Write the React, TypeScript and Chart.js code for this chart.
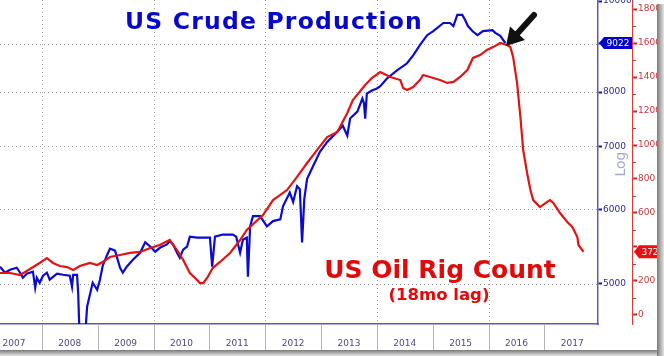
import React, { useEffect, useRef } from "react";
import { Chart, registerables } from "chart.js";

Chart.register(...registerables);

// ---- data ----
const yearLabels = [2007, 2008, 2009, 2010, 2011, 2012, 2013, 2014, 2015, 2016, 2017];
const gridYears = [2008, 2010, 2012, 2014, 2016];
const prodTicks = [5000, 6000, 7000, 8000, 9000, 10000];
const rigTicks = [0, 200, 400, 600, 800, 1000, 1200, 1400, 1600, 1800];
const rigMinorTicks = [100, 300, 500, 700, 900, 1100, 1300, 1500, 1700];

// US crude production (kb/d, log axis)
const prodDates = [
  2007.25, 2007.34, 2007.43, 2007.55, 2007.61, 2007.66, 2007.73, 2007.84, 2007.88, 2007.91, 2007.96,
  2008.02, 2008.09, 2008.14, 2008.27, 2008.38, 2008.5, 2008.54, 2008.56, 2008.63, 2008.65, 2008.68,
  2008.77, 2008.81, 2008.91, 2008.99, 2009.04, 2009.09, 2009.17, 2009.22, 2009.31, 2009.4, 2009.45,
  2009.52, 2009.63, 2009.76, 2009.85, 2009.94, 2010.03, 2010.12, 2010.24, 2010.29, 2010.35, 2010.42,
  2010.47, 2010.53, 2010.6, 2010.65, 2010.78, 2010.89, 2011.01, 2011.05, 2011.1, 2011.24, 2011.42,
  2011.48, 2011.55, 2011.6, 2011.67, 2011.69, 2011.73, 2011.78, 2011.91, 2012.03, 2012.14, 2012.27,
  2012.32, 2012.44, 2012.5, 2012.57, 2012.62, 2012.66, 2012.7, 2012.75, 2012.86, 2012.98, 2013.11,
  2013.29, 2013.39, 2013.47, 2013.52, 2013.65, 2013.74, 2013.77, 2013.79, 2013.82, 2013.91, 2014.0,
  2014.06, 2014.18, 2014.36, 2014.54, 2014.65, 2014.77, 2014.9, 2015.01, 2015.19, 2015.31, 2015.37,
  2015.44, 2015.53, 2015.58, 2015.63, 2015.71, 2015.8, 2015.9, 2016.07, 2016.12, 2016.21, 2016.3,
];
const prodValues = [
  5213, 5137, 5175, 5200, 5137, 5074, 5124, 5150, 4951, 5074, 5012,
  5099, 5137, 5050, 5124, 5111, 5099, 4963, 5111, 5111, 4889, 4300,
  4350, 4727, 5012, 4926, 5050, 5226, 5369, 5450, 5422, 5200, 5137,
  5213, 5302, 5395, 5534, 5478, 5409, 5464, 5506, 5548, 5506, 5395,
  5330, 5436, 5478, 5612, 5598, 5598, 5598, 5213, 5612, 5641, 5641,
  5612, 5395, 5570, 5598, 5087, 5756, 5902, 5902, 5756, 5830, 5854,
  6049, 6253, 6110, 6351, 6303, 5534, 6155, 6466, 6676, 6909, 7080,
  7256, 7366, 7187, 7496, 7624, 7873, 7777, 7496, 7970, 8029, 8071,
  8115, 8271, 8436, 8584, 8754, 8974, 9196, 9290, 9475, 9475, 9405,
  9664, 9664, 9545, 9405, 9290, 9196, 9290, 9310, 9250, 9180, 9022,
];

// US oil rig count (shifted 18 months)
const rigDates = [
  2007.25, 2007.43, 2007.61, 2007.73, 2007.96, 2008.09, 2008.2, 2008.32, 2008.45, 2008.56, 2008.68,
  2008.86, 2008.99, 2009.09, 2009.22, 2009.4, 2009.58, 2009.76, 2009.94, 2010.11, 2010.29, 2010.35,
  2010.42, 2010.53, 2010.65, 2010.78, 2010.83, 2010.89, 2010.96, 2011.06, 2011.19, 2011.37, 2011.55,
  2011.67, 2011.96, 2012.14, 2012.39, 2012.57, 2012.75, 2012.93, 2013.11, 2013.29, 2013.47, 2013.57,
  2013.79, 2013.91, 2014.06, 2014.24, 2014.42, 2014.47, 2014.54, 2014.65, 2014.77, 2014.83, 2014.95,
  2015.13, 2015.26, 2015.37, 2015.49, 2015.62, 2015.72, 2015.85, 2015.97, 2016.08, 2016.21, 2016.33,
  2016.39, 2016.44, 2016.51, 2016.57, 2016.62, 2016.69, 2016.75, 2016.8, 2016.92, 2017.05, 2017.1,
  2017.16, 2017.28, 2017.41, 2017.5, 2017.59, 2017.61, 2017.7,
];
const rigValues = [
  247, 247, 235, 259, 306, 335, 306, 288, 282, 265, 288,
  306, 294, 312, 341, 353, 365, 371, 394, 412, 441, 412,
  382, 324, 247, 206, 188, 188, 218, 276, 312, 365, 441,
  500, 588, 676, 735, 812, 894, 971, 1047, 1076, 1188, 1265,
  1353, 1394, 1429, 1400, 1382, 1335, 1324, 1341, 1382, 1412, 1400,
  1382, 1365, 1371, 1400, 1441, 1512, 1529, 1559, 1576, 1600, 1588,
  1576, 1518, 1365, 1165, 971, 835, 735, 676, 635, 665, 676,
  659, 600, 547, 518, 459, 412, 372,
];

const lastProd = 9022;
const lastRig = 372;

const BLUE = "#0a0ad2";
const RED = "#e01414";

function tag(ctx: CanvasRenderingContext2D, xl: number, ym: number, w: number, h: number, color: string, text: string) {
  ctx.save();
  ctx.fillStyle = color;
  ctx.beginPath();
  ctx.moveTo(xl, ym);
  ctx.lineTo(xl + 5, ym - h / 2);
  ctx.lineTo(xl + w, ym - h / 2);
  ctx.lineTo(xl + w, ym + h / 2);
  ctx.lineTo(xl + 5, ym + h / 2);
  ctx.closePath();
  ctx.fill();
  ctx.fillStyle = "#ffffff";
  ctx.font = "9px 'DejaVu Sans'";
  ctx.textAlign = "center";
  ctx.textBaseline = "middle";
  ctx.fillText(text, xl + 5 + (w - 5) / 2, ym + 0.5);
  ctx.restore();
}

const overlay = {
  id: "overlay",
  beforeDatasetsDraw(chart: any) {
    const { ctx, chartArea: a, scales } = chart;
    const x = scales.x;
    const y = scales.y;
    ctx.save();
    ctx.strokeStyle = "#a0a0a0";
    ctx.lineWidth = 1;
    ctx.setLineDash([1, 3]);
    gridYears.forEach((g) => {
      const px = Math.round(x.getPixelForValue(g)) + 0.5;
      ctx.beginPath();
      ctx.moveTo(px, a.top);
      ctx.lineTo(px, a.bottom);
      ctx.stroke();
    });
    prodTicks.forEach((v) => {
      if (v >= 10000) return;
      const py = Math.round(y.getPixelForValue(v)) + 0.5;
      ctx.beginPath();
      ctx.moveTo(a.left, py);
      ctx.lineTo(a.right, py);
      ctx.stroke();
    });
    ctx.restore();
  },
  afterDraw(chart: any) {
    const { ctx, chartArea: a, scales } = chart;
    const x = scales.x;
    const y = scales.y;
    const y2 = scales.y2;
    ctx.save();
    // year separators under the axis
    ctx.strokeStyle = "#b4b4b4";
    ctx.lineWidth = 1;
    for (let yr = 2008; yr <= 2017; yr++) {
      const px = Math.round(x.getPixelForValue(yr)) + 0.5;
      ctx.beginPath();
      ctx.moveTo(px, a.bottom + 1);
      ctx.lineTo(px, a.bottom + 26);
      ctx.stroke();
    }
    // red minor ticks
    ctx.strokeStyle = "#d03030";
    rigMinorTicks.forEach((v) => {
      const py = Math.round(y2.getPixelForValue(v)) + 0.5;
      ctx.beginPath();
      ctx.moveTo(y2.left, py);
      ctx.lineTo(y2.left + 3, py);
      ctx.stroke();
    });
    // Log label
    ctx.save();
    ctx.translate(621, 164);
    ctx.rotate(-Math.PI / 2);
    ctx.fillStyle = "#a4aad2";
    ctx.font = "14px 'DejaVu Sans'";
    ctx.textAlign = "center";
    ctx.textBaseline = "middle";
    ctx.fillText("Log", 0, 0);
    ctx.restore();
    // value tags
    tag(ctx, y.left + 1, y.getPixelForValue(lastProd), 33, 12, "#0000cc", String(lastProd));
    tag(ctx, y2.left + 1, y2.getPixelForValue(lastRig), 27, 13, "#e81010", String(lastRig));
    // titles
    ctx.textAlign = "center";
    ctx.textBaseline = "alphabetic";
    ctx.fillStyle = "#0808cc";
    ctx.font = "bold 23.5px 'DejaVu Sans'";
    (ctx as any).letterSpacing = "1.2px";
    ctx.fillText("US Crude Production", 274, 29);
    (ctx as any).letterSpacing = "0px";
    ctx.fillStyle = "#e00a0a";
    ctx.font = "bold 25px 'DejaVu Sans'";
    ctx.fillText("US Oil Rig Count", 440, 278);
    ctx.font = "bold 16.5px 'DejaVu Sans'";
    ctx.fillText("(18mo lag)", 439, 300);
    // arrow
    ctx.strokeStyle = "#111111";
    ctx.fillStyle = "#111111";
    ctx.lineWidth = 6;
    ctx.lineCap = "round";
    ctx.beginPath();
    ctx.moveTo(534, 15);
    ctx.lineTo(516, 35);
    ctx.stroke();
    ctx.beginPath();
    ctx.moveTo(506, 46);
    ctx.lineTo(510, 26.5);
    ctx.lineTo(525, 40);
    ctx.closePath();
    ctx.fill();
    // picture shadow
    const gb = ctx.createLinearGradient(0, 350, 0, 356);
    gb.addColorStop(0, "#7a7a7a");
    gb.addColorStop(1, "#e4e4e4");
    ctx.fillStyle = gb;
    ctx.fillRect(0, 350, 657, 6);
    const gr = ctx.createLinearGradient(657, 0, 664, 0);
    gr.addColorStop(0, "#7a7a7a");
    gr.addColorStop(1, "#e4e4e4");
    ctx.fillStyle = gr;
    ctx.fillRect(657, 4, 7, 352);
    ctx.restore();
  },
};

export default function App() {
  const ref = useRef<HTMLCanvasElement>(null);
  useEffect(() => {
    document.body.style.margin = "0";
    const font9 = { family: "'DejaVu Sans'", size: 9 };
    const chart = new Chart(ref.current as HTMLCanvasElement, {
      type: "line",
      data: {
        datasets: [
          {
            label: "US Oil Rig Count",
            data: rigDates.map((d, i) => ({ x: d, y: rigValues[i] })),
            yAxisID: "y2",
            borderColor: RED,
            borderWidth: 2.2,
            pointRadius: 0,
            order: 0,
          },
          {
            label: "US Crude Production",
            data: prodDates.map((d, i) => ({ x: d, y: prodValues[i] })),
            yAxisID: "y",
            borderColor: BLUE,
            borderWidth: 2.2,
            pointRadius: 0,
            order: 1,
          },
        ],
      },
      options: {
        responsive: false,
        animation: false,
        devicePixelRatio: 1,
        layout: { padding: 0 },
        plugins: { legend: { display: false }, tooltip: { enabled: false }, title: { display: false } },
        elements: { line: { tension: 0 } },
        scales: {
          x: {
            type: "linear",
            position: "bottom",
            min: 2007.25,
            max: 2017.96,
            afterBuildTicks: (s: any) => {
              s.ticks = yearLabels.map((v) => ({ value: v + 0.5 }));
            },
            afterFit: (s: any) => {
              s.height = 32;
              s.paddingLeft = 0;
              s.paddingRight = 0;
            },
            grid: { display: false, drawTicks: false },
            border: { display: true, color: "#5c5ca8", width: 1.5 },
            ticks: {
              autoSkip: false,
              maxRotation: 0,
              padding: 14,
              color: "#4b4b7e",
              font: font9,
              callback: (v: any) => String(Math.floor(Number(v))),
            },
          },
          y: {
            type: "logarithmic",
            position: "right",
            weight: 0,
            min: 4530,
            max: 10025,
            afterBuildTicks: (s: any) => {
              s.ticks = prodTicks.map((v) => ({ value: v }));
            },
            afterFit: (s: any) => {
              s.width = 35;
              s.paddingTop = 0;
              s.paddingBottom = 0;
            },
            grid: { display: true, drawOnChartArea: false, drawTicks: true, tickLength: 4, tickColor: "#1a1aa0", tickWidth: 2 },
            border: { display: true, color: "#5c5ca8", width: 1.5 },
            ticks: {
              padding: 1,
              color: "#2b2b8c",
              font: font9,
              callback: (v: any) => (Number(v) === 9000 ? "" : String(v)),
            },
          },
          y2: {
            type: "linear",
            position: "right",
            weight: 1,
            min: -53,
            max: 1853,
            afterBuildTicks: (s: any) => {
              s.ticks = rigTicks.map((v) => ({ value: v }));
            },
            afterFit: (s: any) => {
              s.width = 31;
              s.paddingTop = 0;
              s.paddingBottom = 0;
            },
            grid: { display: true, drawOnChartArea: false, drawTicks: true, tickLength: 4, tickColor: "#d02020", tickWidth: 2 },
            border: { display: true, color: "#d04040", width: 1.2 },
            ticks: {
              padding: 1,
              color: "#c23a3a",
              font: font9,
              callback: (v: any) => (Number(v) === 400 ? "" : String(v)),
            },
          },
        },
      },
      plugins: [overlay],
    } as any);
    return () => chart.destroy();
  }, []);
  return (
    <div style={{ position: "absolute", left: 0, top: 0, width: 664, height: 356, background: "#ffffff" }}>
      <canvas ref={ref} width={664} height={356} style={{ display: "block", width: 664, height: 356 }} />
    </div>
  );
}
